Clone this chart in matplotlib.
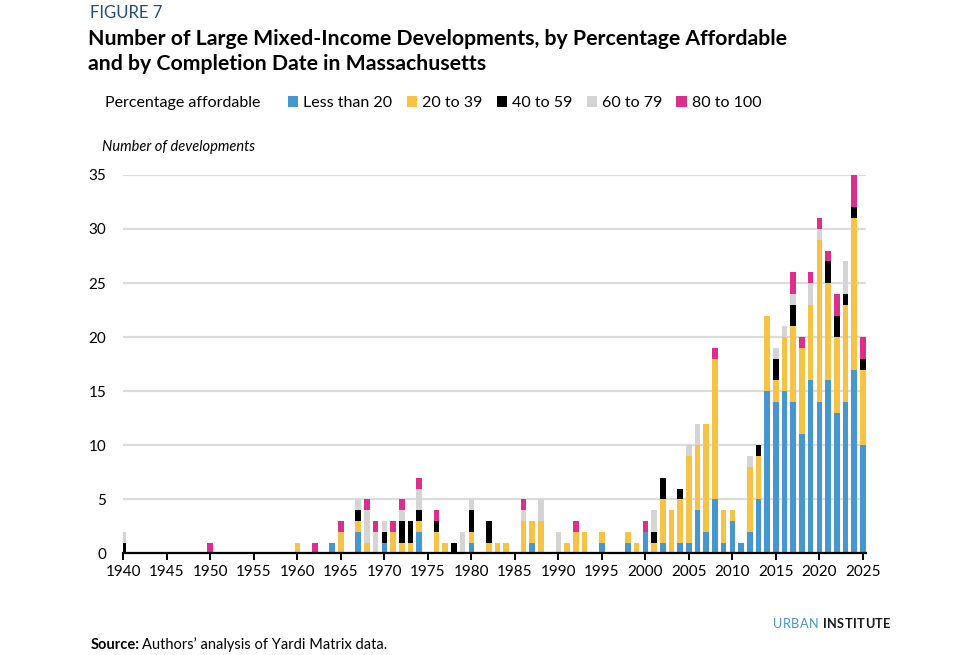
import numpy as np
import matplotlib
matplotlib.use('Agg')
import matplotlib.pyplot as plt
from matplotlib.patches import Patch

plt.rcParams['font.family'] = ['Lato', 'DejaVu Sans']

# years that have at least one development
years = [1940, 1950, 1960, 1962, 1964, 1965, 1967, 1968, 1969, 1970, 1971, 1972, 1973, 1974,
         1976, 1977, 1978, 1979, 1980, 1982, 1983, 1984, 1986, 1987, 1988, 1990, 1991, 1992,
         1993, 1995, 1998, 1999, 2000, 2001, 2002, 2003, 2004, 2005, 2006, 2007, 2008, 2009,
         2010, 2011, 2012, 2013, 2014, 2015, 2016, 2017, 2018, 2019, 2020, 2021, 2022, 2023,
         2024, 2025]
less_20 = [0, 0, 0, 0, 1, 0, 2, 0, 0, 1, 0, 0, 0, 2,
           0, 0, 0, 0, 1, 0, 0, 0, 0, 1, 0, 0, 0, 0,
           0, 1, 1, 0, 2, 0, 1, 0, 1, 1, 4, 2, 5, 1,
           3, 1, 2, 5, 15, 14, 15, 14, 11, 16, 14, 16, 13, 14,
           17, 10]
p20_39 = [0, 0, 1, 0, 0, 2, 1, 1, 0, 0, 2, 1, 1, 1,
          2, 1, 0, 0, 1, 1, 1, 1, 3, 2, 3, 0, 1, 2,
          2, 1, 1, 1, 0, 1, 4, 4, 4, 8, 6, 10, 13, 3,
          1, 0, 6, 4, 7, 2, 5, 7, 8, 7, 15, 9, 7, 9,
          14, 7]
p40_59 = [1, 0, 0, 0, 0, 0, 1, 0, 0, 1, 0, 2, 2, 1,
          1, 0, 1, 0, 2, 2, 0, 0, 0, 0, 0, 0, 0, 0,
          0, 0, 0, 0, 0, 1, 2, 0, 1, 0, 0, 0, 0, 0,
          0, 0, 0, 1, 0, 2, 0, 2, 0, 0, 0, 2, 2, 1,
          1, 1]
p60_79 = [1, 0, 0, 0, 0, 0, 1, 3, 2, 1, 0, 1, 0, 2,
          0, 0, 0, 2, 1, 0, 0, 0, 1, 0, 2, 2, 0, 0,
          0, 0, 0, 0, 0, 2, 0, 0, 0, 1, 2, 0, 0, 0,
          0, 0, 1, 0, 0, 1, 1, 1, 0, 2, 1, 0, 0, 3,
          0, 0]
p80_100 = [0, 1, 0, 1, 0, 1, 0, 1, 1, 0, 1, 1, 0, 1,
           1, 0, 0, 0, 0, 0, 0, 0, 1, 0, 0, 0, 0, 1,
           0, 0, 0, 0, 1, 0, 0, 0, 0, 0, 0, 0, 1, 0,
           0, 0, 0, 0, 0, 0, 0, 2, 1, 1, 1, 1, 2, 0,
           3, 2]

labels = ['Less than 20', '20 to 39', '40 to 59', '60 to 79', '80 to 100']
colors = ['#4696d0', '#f6c344', '#000000', '#d4d4d4', '#dc2f8b']
series = [less_20, p20_39, p40_59, p60_79, p80_100]

fig = plt.figure(figsize=(9.6, 6.55), dpi=100)
ax = fig.add_axes([0.128, 0.155, 0.774, 0.578])

bottom = np.zeros(len(years))
for vals, col in zip(series, colors):
    ax.bar(years, vals, bottom=bottom, width=0.65, color=col, linewidth=0, zorder=3)
    bottom += np.array(vals)

ax.set_xlim(1939.95, 2025.35)
ax.set_ylim(0, 35)
ax.set_yticks(range(0, 36, 5))
ax.set_xticks(range(1940, 2026, 5))
ax.grid(axis='y', color='#dcdcdc', linewidth=1.6, zorder=0)
ax.set_axisbelow(True)
for s in ['top', 'right', 'left']:
    ax.spines[s].set_visible(False)
ax.spines['bottom'].set_linewidth(1.6)
ax.spines['bottom'].set_zorder(4)
ax.tick_params(axis='y', length=0, labelsize=11, pad=12)
ax.tick_params(axis='x', length=5, width=1.4, labelsize=11, pad=3)

fig.text(0.094, 0.993, 'FIGURE 7', fontsize=12, color='#1f4f7a', va='top')
fig.text(0.092, 0.956, 'Number of Large Mixed-Income Developments, by Percentage Affordable\n'
         'and by Completion Date in Massachusetts',
         fontsize=15.3, fontweight='bold', va='top', linespacing=1.32)

fig.text(0.109, 1 - 103 / 655, 'Percentage affordable', fontsize=11.5, va='center')
handles = [Patch(facecolor=c, edgecolor='none') for c in colors]
fig.legend(handles, labels, ncol=5, loc='center left', bbox_to_anchor=(0.300, 1 - 103 / 655),
           frameon=False, fontsize=11.5, handlelength=0.65, handleheight=0.65,
           handletextpad=0.3, columnspacing=0.9, borderaxespad=0, borderpad=0)

fig.text(0.106, 1 - 147 / 655, 'Number of developments', fontsize=10.5, style='italic', va='center')

# letter-spaced logo text
fig.canvas.draw()
rend = fig.canvas.get_renderer()
x = 773.0
for word, kw in [('URBAN', dict(color='#4696d0')), ('INSTITUTE', dict(color='#1a1a1a', fontweight='bold'))]:
    for ch in word:
        t = fig.text(x / 960, 1 - 624 / 655, ch, fontsize=9.2, va='center', **kw)
        x = t.get_window_extent(rend).x1 + 0.45
    x += 4.0

src = fig.text(0.094, 1 - 645 / 655, 'Source:', fontsize=10.5, fontweight='bold', va='center')
bb = src.get_window_extent(rend)
fig.text(bb.x1 / fig.bbox.width + 0.003, 1 - 645 / 655, 'Authors’ analysis of Yardi Matrix data.',
         fontsize=10.5, va='center')

fig.savefig('out.png', dpi=100)
